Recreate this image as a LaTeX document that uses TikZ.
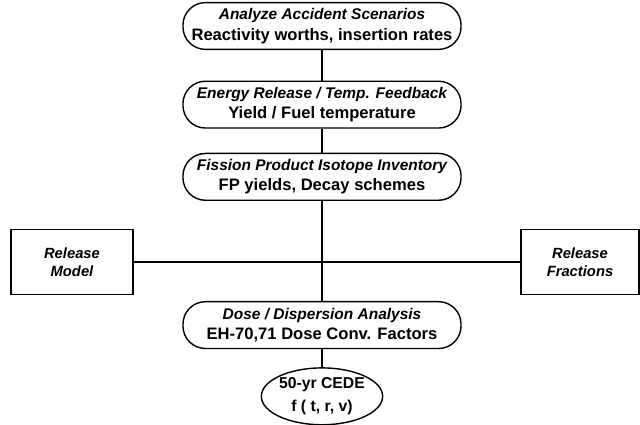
\documentclass[tikz,border=0pt]{standalone}
\usepackage{fontspec}
\setmainfont{Liberation Sans}
\usetikzlibrary{positioning,shapes.geometric}

\newcommand{\stagetitle}[1]{{\fontsize{11}{14.5}\selectfont\itshape #1}}

\begin{document}
\begin{tikzpicture}[x=0.025cm, y=-0.025cm, node distance=0.6cm,
  every node/.style={align=center, line width=1pt, font=\fontsize{11.8}{14.5}\selectfont\bfseries},
  stage/.style={draw, rectangle, rounded corners=16pt, minimum width=6.95cm, minimum height=1.17cm, inner sep=1pt},
  side/.style={draw, rectangle, minimum height=1.62cm, font=\fontsize{10.5}{13}\selectfont\bfseries\itshape}]
\useasboundingbox (0,0) rectangle (640,424);
% Analysis chain
\node (analyze) [stage] at (322,26) {\stagetitle{Analyze Accident Scenarios}\\Reactivity worths, insertion rates};
\node (energy) [stage, below=0.76cm of analyze] {\stagetitle{Energy Release / Temp. Feedback}\\Yield / Fuel temperature};
\node (fission) [stage, below=0.6cm of energy] {\stagetitle{Fission Product Isotope Inventory}\\FP yields, Decay schemes};
\node (dose) [stage, below=2.5cm of fission] {\stagetitle{Dose / Dispersion Analysis}\\EH-70,71 Dose Conv. Factors};
\node (cede) [ellipse, draw, below=0.45cm of dose, minimum width=2.75cm, minimum height=1.42cm, inner sep=0pt, font=\fontsize{11.2}{14}\selectfont\bfseries] {50-yr CEDE\\[2pt]f ( t, r, v)};

% Side inputs
\node (model) [side, minimum width=3.05cm] at (72,262) {Release\\Model};
\node (fractions) [side, minimum width=2.95cm] at (580,262) {Release\\Fractions};

% Connectors
\draw[line width=1pt] (analyze) -- (energy);
\draw[line width=1pt] (energy) -- (fission);
\draw[line width=1pt] (fission) -- (dose);
\draw[line width=1pt] (dose) -- (cede);
\draw[line width=1pt] (model) -- (fractions);
\end{tikzpicture}
\end{document}
